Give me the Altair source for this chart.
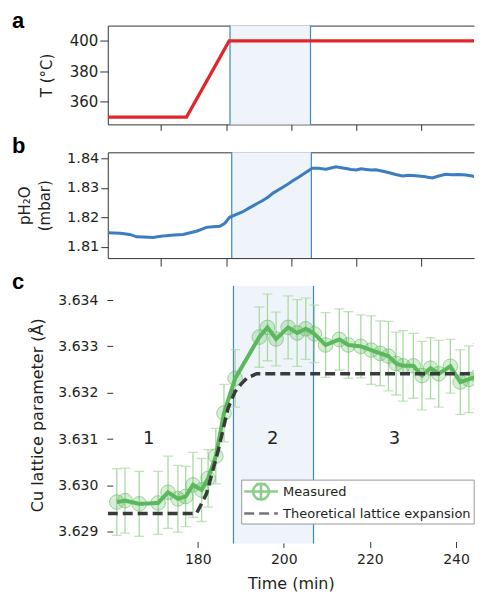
import altair as alt
import pandas as pd

FONT = "DejaVu Sans"
LFONT = "Liberation Sans"
TXT = "#231f20"
AXC = "#333333"
RED = "#e3242b"
BLUE = "#3a7dc0"
SHADE = "#eef4f9"
EDGE = "#3d86c8"
GREEN = "#5cb85c"
GREEN_LIGHT = "#a9d9a3"
DARK = "#3a3a3a"

# ---------------- data ----------------
X_DOMAIN = [159.1, 244.19]
AB_TICKS = [171.5, 186.7, 201.8, 216.9, 232.0]
C_TICKS = [180, 200, 220, 240]
PANEL_LETTERS = ["a", "b", "c"]

# panel a: temperature
temp_time = [159.1, 177.4, 187.3, 246.05]
temp_val = [350, 350, 400, 400]
shade_a = [187.5, 206.2]

# panel b: pH2O
ph2o_time = [159.1, 162.0, 164.2, 165.8, 167.5, 169.6, 171.0, 172.7, 174.5, 176.6,
             178.0, 179.7, 181.0, 182.0, 183.5, 185.1, 186.3, 187.4, 189.0, 190.5,
             192.0, 193.6, 195.1, 196.3, 197.5, 199.0, 200.6, 202.0, 203.6, 205.0,
             206.6, 208.0, 209.8, 211.0, 212.1, 213.3, 214.5, 215.6, 216.8, 218.0,
             219.1, 220.3, 221.4, 223.0, 224.5, 226.0, 227.6, 229.0, 230.7, 232.5,
             234.5, 236.0, 237.6, 239.0, 240.7, 242.3, 243.8, 245.0, 246.05]
ph2o_val = [1.8148, 1.8146, 1.8142, 1.8134, 1.8133, 1.8132, 1.8135, 1.8138, 1.8140, 1.8142,
            1.8147, 1.8153, 1.8160, 1.8166, 1.8168, 1.8170, 1.8180, 1.8200, 1.8210, 1.8219,
            1.8232, 1.8245, 1.8257, 1.8268, 1.8282, 1.8295, 1.8309, 1.8323, 1.8337, 1.8351,
            1.8366, 1.8366, 1.8363, 1.8367, 1.8371, 1.8368, 1.8365, 1.8362, 1.8360, 1.8364,
            1.8362, 1.8360, 1.8361, 1.8356, 1.8351, 1.8345, 1.8340, 1.8342, 1.8341, 1.8338,
            1.8333, 1.8340, 1.8346, 1.8344, 1.8345, 1.8343, 1.8340, 1.8333, 1.8332]
shade_b = [187.9, 206.4]

# panel c: Cu lattice parameter
meas_time = [161.2, 163.1, 166.4, 170.8, 173.1, 175.4, 177.2, 178.9, 180.9, 182.4,
             184.2, 186.1, 188.7, 194.3, 196.2, 198.2, 201.0, 203.1, 205.1, 207.1,
             209.7, 212.9, 215.0, 217.9, 220.3, 222.4, 224.3, 226.1, 227.7, 230.1,
             232.1, 234.1, 236.0, 238.7, 241.0, 243.0, 245.1]
meas_val = [3.62964, 3.62967, 3.62960, 3.62962, 3.62985, 3.62971, 3.62976, 3.63001, 3.62990, 3.63015,
            3.63063, 3.63156, 3.63231, 3.63320, 3.63341, 3.63316, 3.63341, 3.63329, 3.63338, 3.63327,
            3.63303, 3.63315, 3.63303, 3.63300, 3.63292, 3.63285, 3.63279, 3.63263, 3.63258, 3.63258,
            3.63237, 3.63253, 3.63241, 3.63257, 3.63223, 3.63229, 3.63236]
meas_err = [0.00072, 0.00070, 0.00070, 0.00068, 0.00078, 0.00072, 0.00065, 0.00070, 0.00068, 0.00062,
            0.00060, 0.00062, 0.00062, 0.00065, 0.00072, 0.00058, 0.00068, 0.00072, 0.00066, 0.00062,
            0.00070, 0.00066, 0.00072, 0.00068, 0.00074, 0.00070, 0.00075, 0.00068, 0.00076, 0.00070,
            0.00074, 0.00066, 0.00072, 0.00058, 0.00070, 0.00072, 0.00070]
theo_time = [159.1, 179.7, 182.0, 184.7, 187.0, 188.6, 190.0, 191.5, 193.7, 246.05]
theo_val = [3.62939, 3.62939, 3.62981, 3.63073, 3.63165, 3.63201, 3.63218, 3.63232, 3.63241, 3.63241]
shade_c = [188.3, 206.9]

region_labels = ["1", "2", "3"]
region_time = [168.6, 197.4, 225.7]
region_val = [3.6310, 3.6310, 3.6310]

SERIES = ["Measured", "Theoretical lattice expansion"]
SERIES_COLORS = [GREEN, DARK]
SERIES_DASH = [[1, 0], [10, 5]]
SYM_MEAS = ("M-1.2,0H3.3M1.05,-1.0V1.0M0.4,-1.0H1.7M0.4,1.0H1.7"
            "M0,0A1.05,1.05,0,1,0,2.1,0A1.05,1.05,0,1,0,0,0Z")
SYM_THEO = "M-1.2,0H3.3"

# ---------------- helpers ----------------
xs = alt.Scale(domain=X_DOMAIN, nice=False, zero=False)
W = 367

bottom_axis_ab = alt.Axis(values=AB_TICKS, labels=False, title=None, grid=False,
                          domain=True, ticks=True, tickSize=6)
top_axis = alt.Axis(orient="top", labels=False, ticks=False, title=None, grid=False,
                    domain=True)


def letter(idx, dy):
    df = pd.DataFrame({"lab": [PANEL_LETTERS[idx]]})
    return alt.Chart(df).mark_text(align="left", baseline="alphabetic", fontSize=22,
                                   fontWeight="bold", font=LFONT, color="black").encode(
        x=alt.value(-96), y=alt.value(dy), text="lab:N")


def shading(bounds, axis=None):
    df = pd.DataFrame({"start": [bounds[0]], "end": [bounds[1]]})
    return alt.Chart(df).mark_rect(color=SHADE).encode(
        x=alt.X("start:Q", scale=xs, axis=axis), x2="end:Q")


def edges(bounds, axis):
    df = pd.DataFrame({"t": bounds})
    return alt.Chart(df).mark_rule(color=EDGE, strokeWidth=1.2).encode(
        x=alt.X("t:Q", scale=xs, axis=axis))


# ---------------- panel a ----------------
temp_df = pd.DataFrame({"t": temp_time, "v": temp_val})
a_line = alt.Chart(temp_df).mark_line(color=RED, strokeWidth=3.2, clip=True).encode(
    x=alt.X("t:Q", scale=xs, axis=bottom_axis_ab),
    y=alt.Y("v:Q", scale=alt.Scale(domain=[345.2, 410.1], nice=False, zero=False),
            axis=alt.Axis(values=[360, 380, 400], title="T (°C)", tickSize=8,
                          grid=False, titlePadding=15, titleFontSize=15,
                          labelFontSize=15)))
panel_a = alt.layer(shading(shade_a), edges(shade_a, top_axis), a_line,
                    letter(0, 2)).resolve_axis(x="independent").properties(width=W, height=99)

# ---------------- panel b ----------------
ph_df = pd.DataFrame({"t": ph2o_time, "v": ph2o_val})
b_line = alt.Chart(ph_df).mark_line(color=BLUE, strokeWidth=3, clip=True).encode(
    x=alt.X("t:Q", scale=xs, axis=alt.Axis(values=AB_TICKS, labels=False, title=None,
                                           grid=False, tickSize=8)),
    y=alt.Y("v:Q", scale=alt.Scale(domain=[1.8062, 1.842], nice=False, zero=False),
            axis=alt.Axis(values=[1.81, 1.82, 1.83, 1.84], format=".2f",
                          title=["pH₂O", "(mbar)"], tickSize=7, grid=False,
                          titlePadding=14, titleFontSize=15, titleLineHeight=20,
                          labelFontSize=14.5)))
panel_b = alt.layer(shading(shade_b), edges(shade_b, top_axis), b_line,
                    letter(1, 1)).resolve_axis(x="independent").properties(width=W, height=106)

# ---------------- panel c ----------------
yc = alt.Scale(domain=[3.628745, 3.634303], nice=False, zero=False)
meas_df = pd.DataFrame({"t": meas_time, "v": meas_val, "err": meas_err})
meas_df["lo"] = meas_df["v"] - meas_df["err"]
meas_df["hi"] = meas_df["v"] + meas_df["err"]
meas_df["series"] = SERIES[0]
theo_df = pd.DataFrame({"t": theo_time, "v": theo_val})
theo_df["series"] = SERIES[1]
lines_df = pd.concat([meas_df[["t", "v", "series"]], theo_df], ignore_index=True)
reg_df = pd.DataFrame({"t": region_time, "v": region_val, "label": region_labels})

LEG = alt.Legend(title=None, orient="none", legendX=133.7, legendY=194,
                 symbolSize=225, symbolStrokeWidth=2.5, labelFontSize=13,
                 labelFont=FONT, labelColor=TXT, labelOffset=21, padding=3,
                 rowPadding=0, fillColor="white", strokeColor="#9a9a9a",
                 symbolFillColor="rgba(92,184,92,0.35)", labelLimit=400)
col = alt.Color("series:N", scale=alt.Scale(domain=SERIES, range=SERIES_COLORS), legend=LEG)
dash = alt.StrokeDash("series:N", scale=alt.Scale(domain=SERIES, range=SERIES_DASH), legend=LEG)
shp = alt.Shape("series:N", scale=alt.Scale(domain=SERIES, range=[SYM_MEAS, SYM_THEO]), legend=LEG)

xc_axis = alt.Axis(values=C_TICKS, title="Time (min)", domain=False, tickSize=6, offset=-2,
                   grid=False, labelPadding=5, titlePadding=9, titleFontSize=16,
                   labelFontSize=14)
yc_axis = alt.Axis(values=[3.629, 3.630, 3.631, 3.632, 3.633, 3.634], format=".3f",
                   title="Cu lattice parameter (Å)", domain=False, tickSize=6, offset=-5,
                   grid=False, labelPadding=9, titlePadding=12, titleFontSize=16,
                   labelFontSize=14)


def cx(field):
    return alt.X(f"{field}:Q", scale=xs, axis=xc_axis)


def cy(field):
    return alt.Y(f"{field}:Q", scale=yc, axis=yc_axis)


c_shade = shading(shade_c, xc_axis)
c_edges = edges(shade_c, xc_axis)
c_err = alt.Chart(meas_df).mark_rule(color=GREEN_LIGHT, strokeWidth=1.3, clip=True).encode(
    x=cx("t"), y=cy("lo"), y2="hi:Q")
c_cap_lo = alt.Chart(meas_df).mark_tick(color=GREEN_LIGHT, thickness=1.3, size=10,
                                        orient="horizontal", clip=True).encode(
    x=cx("t"), y=cy("lo"))
c_cap_hi = alt.Chart(meas_df).mark_tick(color=GREEN_LIGHT, thickness=1.3, size=10,
                                        orient="horizontal", clip=True).encode(
    x=cx("t"), y=cy("hi"))
c_pts = alt.Chart(meas_df).mark_circle(size=215, color=GREEN, fillOpacity=0.25,
                                       stroke=GREEN, strokeWidth=1, strokeOpacity=0.55,
                                       clip=True).encode(x=cx("t"), y=cy("v"))
c_meas_line = alt.Chart(lines_df).transform_filter(
    alt.datum.series == SERIES[0]).mark_line(strokeWidth=4, clip=True).encode(
    x=cx("t"), y=cy("v"), color=col, strokeDash=dash)
c_theo_line = alt.Chart(lines_df).transform_filter(
    alt.datum.series == SERIES[1]).mark_line(strokeWidth=3.5, clip=True).encode(
    x=cx("t"), y=cy("v"), color=col, strokeDash=dash)
c_leg = alt.Chart(lines_df).transform_filter("false").mark_point(filled=False).encode(
    x=cx("t"), y=cy("v"), color=col, strokeDash=dash, shape=shp)
c_text = alt.Chart(reg_df).mark_text(fontSize=18, font=FONT, color=TXT).encode(
    x=cx("t"), y=cy("v"), text="label:N")

panel_c = alt.layer(c_shade, c_edges, c_err, c_cap_lo, c_cap_hi, c_pts, c_meas_line,
                    c_theo_line, c_leg, c_text, letter(2, 3)).properties(width=W, height=258)

chart = alt.vconcat(panel_a, panel_b, panel_c, spacing=4).resolve_legend(
    color="independent", strokeDash="independent", shape="independent"
).properties(
    padding={"left": 4, "top": 1, "right": 0, "bottom": 0}
).configure_view(stroke=None).configure_axis(
    labelFont=FONT, titleFont=FONT, labelColor=TXT, titleColor=TXT,
    labelFontSize=14, titleFontWeight="normal", domainColor=AXC, tickColor=AXC,
    domainWidth=1, tickWidth=1)

chart.save("out.html", embed_options={"renderer": "svg", "actions": False})
